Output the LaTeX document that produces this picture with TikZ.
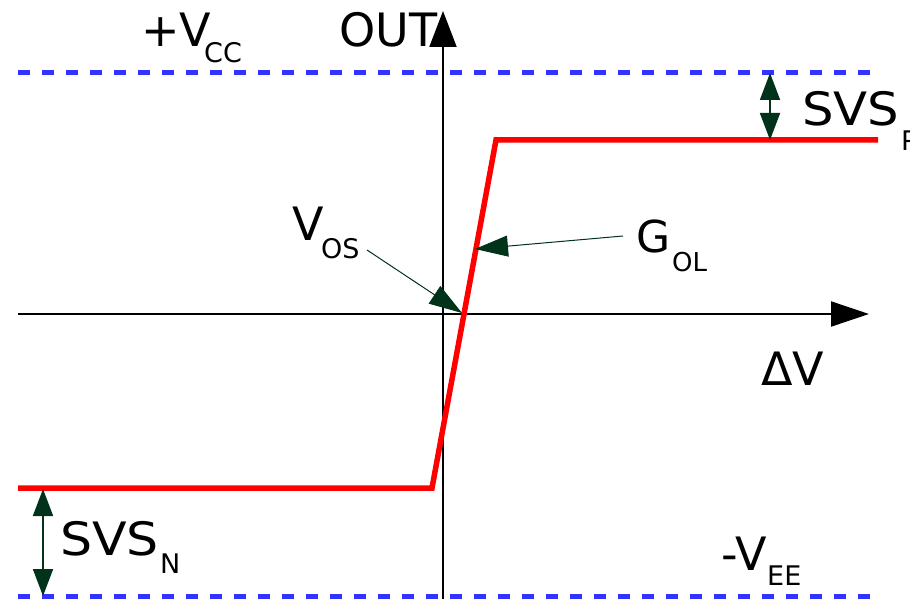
\documentclass[tikz,border=0pt]{standalone}
\usepackage{fontspec}
\setmainfont{DejaVu Sans}
\usetikzlibrary{arrows.meta}
\definecolor{railblue}{RGB}{51,51,255}
\definecolor{tfred}{RGB}{255,0,0}
\definecolor{dimgreen}{RGB}{0,51,26}
\begin{document}
\begin{tikzpicture}[x=1pt,y=-1pt,
  lbl/.style={anchor=base west,inner sep=0pt,text depth=0pt,font=\fontsize{46}{50}\selectfont},
  sub/.style={anchor=base west,inner sep=0pt,text height=11pt,text depth=0pt,font=\fontsize{27}{30}\selectfont},
  rail/.style={draw=railblue,line width=5pt,dash pattern=on 12pt off 12pt},
  axis/.style={draw=black,line width=2pt},
  tf/.style={draw=tfred,line width=5.5pt},
  dimarr/.style={draw=dimgreen,fill=dimgreen,line width=1.8pt,
    {Triangle[length=27pt,width=20pt]}-{Triangle[length=27pt,width=20pt]}},
  callout/.style={draw=dimgreen,line width=1pt,-{Triangle[length=33pt,width=21pt,fill=dimgreen]}}]
\useasboundingbox (0,0) rectangle (910,599);
\clip (0,0) rectangle (910,599);

% supply rails
\coordinate (vccL) at (18,73);
\coordinate (vccR) at (876,73);
\coordinate (veeL) at (18,596);
\coordinate (veeR) at (876,596);
\draw[rail] (vccL) -- (vccR);
\draw[rail] (veeL) -- (veeR);

% axes
\coordinate (xs) at (18,314);
\coordinate (xe) at (869,314);
\coordinate (ys) at (443,599);
\coordinate (ye) at (443,11);
\draw[axis,-{Triangle[length=38pt,width=25pt]}] (xs) -- (xe);
\draw[axis,-{Triangle[length=36pt,width=27pt]}] (ys) -- (ye);

% transfer characteristic
\coordinate (rl) at (18,488);
\coordinate (rk1) at (432,488);
\coordinate (rk2) at (496,140);
\coordinate (rr) at (878,140);
\draw[tf] (rl) -- (rk1) -- (rk2) -- (rr);

% swing arrows
\coordinate (spT) at (770,73);
\coordinate (spB) at (770,140);
\coordinate (snT) at (43,489);
\coordinate (snB) at (43,596);
\draw[dimarr] (spT) -- (spB);
\draw[dimarr] (snT) -- (snB);

% callouts
\coordinate (vosS) at (367,250);
\coordinate (vosE) at (462,313);
\coordinate (golS) at (623,236);
\coordinate (golE) at (475,249);
\draw[callout] (vosS) -- (vosE);
\draw[callout] (golS) -- (golE);

% labels
\node[lbl] (vcc) at (141,47) {+V};
\node[sub] (vccs) at (204,63) {CC};
\node[lbl] (out) at (339,47) {OUT};
\node[lbl] (svsp) at (802,126) {\scalebox{1.08}[1]{SVS}};
\node[sub] (svsps) at (901,150) {P};
\node[lbl] (vos) at (292,240) {V};
\node[sub] (voss) at (321,258) {OS};
\node[lbl,font=\fontsize{44}{48}\selectfont] (gol) at (636,252) {G};
\node[sub,font=\fontsize{26}{29}\selectfont] (gols) at (672,271) {OL};
\node[lbl] (dv) at (761,385) {ΔV};
\node[lbl] (svsn) at (60,555) {\scalebox{1.1}[1]{SVS}};
\node[sub] (svsns) at (160,573) {N};
\node[lbl] (vee) at (721,570) {-V};
\node[sub] (vees) at (767,585) {EE};
\end{tikzpicture}
\end{document}
